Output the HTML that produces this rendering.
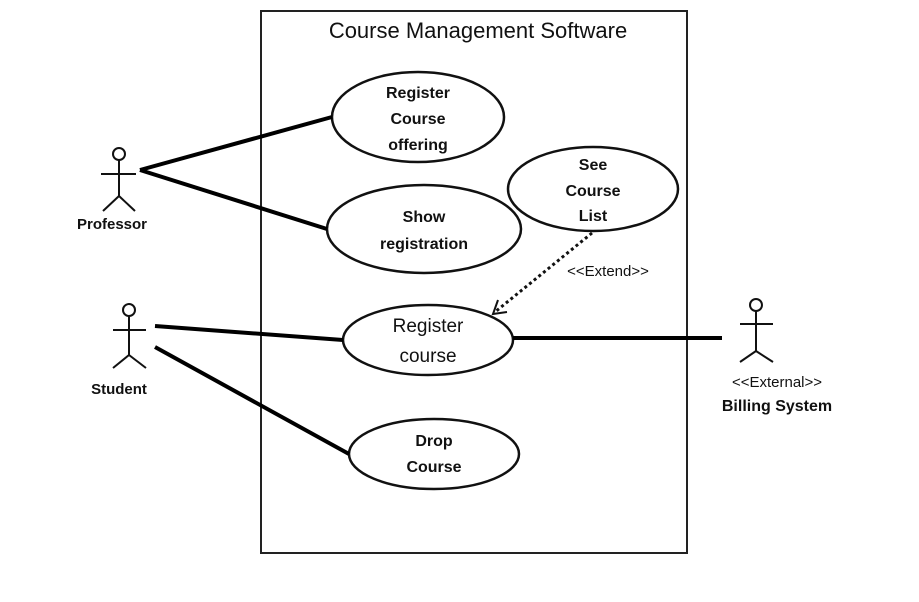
<!DOCTYPE html>
<html><head><style>body{margin:0;background:#fff}svg{display:block}text{font-family:"Liberation Sans",sans-serif;fill:#111}</style></head>
<body>
<svg width="919" height="602" viewBox="0 0 919 602" xmlns="http://www.w3.org/2000/svg">
<rect x="261" y="11" width="426" height="542" fill="none" stroke="#222" stroke-width="2"/>
<text x="478" y="38" font-size="22" text-anchor="middle">Course Management Software</text>
<g fill="none" stroke="#111" stroke-width="2.5">
<ellipse cx="418" cy="117" rx="86" ry="45"/>
<ellipse cx="424" cy="229" rx="97" ry="44"/>
<ellipse cx="593" cy="189" rx="85" ry="42"/>
<ellipse cx="428" cy="340" rx="85" ry="35"/>
<ellipse cx="434" cy="454" rx="85" ry="35"/>
</g>
<g fill="none" stroke="#000" stroke-width="4">
<line x1="140" y1="170" x2="332" y2="117"/>
<line x1="140" y1="170" x2="327" y2="229"/>
<line x1="155" y1="326" x2="343" y2="340"/>
<line x1="155" y1="347" x2="349" y2="454"/>
<line x1="513" y1="338" x2="722" y2="338"/>
</g>
<g fill="none" stroke="#111" stroke-width="2">
<circle cx="119" cy="154" r="6"/><line x1="119" y1="160" x2="119" y2="196"/><line x1="101" y1="174" x2="136" y2="174"/><line x1="119" y1="196" x2="103" y2="211"/><line x1="119" y1="196" x2="135" y2="211"/>
<circle cx="129" cy="310" r="6"/><line x1="129" y1="316" x2="129" y2="355"/><line x1="113" y1="330" x2="146" y2="330"/><line x1="129" y1="355" x2="113" y2="368"/><line x1="129" y1="355" x2="146" y2="368"/>
<circle cx="756" cy="305" r="6"/><line x1="756" y1="311" x2="756" y2="351"/><line x1="740" y1="324" x2="773" y2="324"/><line x1="756" y1="351" x2="740" y2="362"/><line x1="756" y1="351" x2="773" y2="362"/>
<line x1="592" y1="233" x2="495" y2="312" stroke-dasharray="3,3" stroke-width="3"/>
<polyline points="498,300 493,314 507,312"/>
</g>
<g font-size="16" text-anchor="middle" font-weight="bold">
<text x="418" y="98">Register</text><text x="418" y="124">Course</text><text x="418" y="150">offering</text>
<text x="424" y="222">Show</text><text x="424" y="249">registration</text>
<text x="593" y="170">See</text><text x="593" y="196">Course</text><text x="593" y="221">List</text>
<text x="428" y="332" font-size="19" font-weight="normal">Register</text><text x="428" y="362" font-size="19" font-weight="normal">course</text>
<text x="434" y="446">Drop</text><text x="434" y="472">Course</text>
<text x="608" y="276" font-size="15" font-weight="normal">&lt;&lt;Extend&gt;&gt;</text>
<text x="112" y="229" font-size="15">Professor</text>
<text x="119" y="394" font-size="15">Student</text>
<text x="777" y="387" font-size="15" font-weight="normal">&lt;&lt;External&gt;&gt;</text>
<text x="777" y="411" font-size="16">Billing System</text>
</g>
</svg>
</body></html>
